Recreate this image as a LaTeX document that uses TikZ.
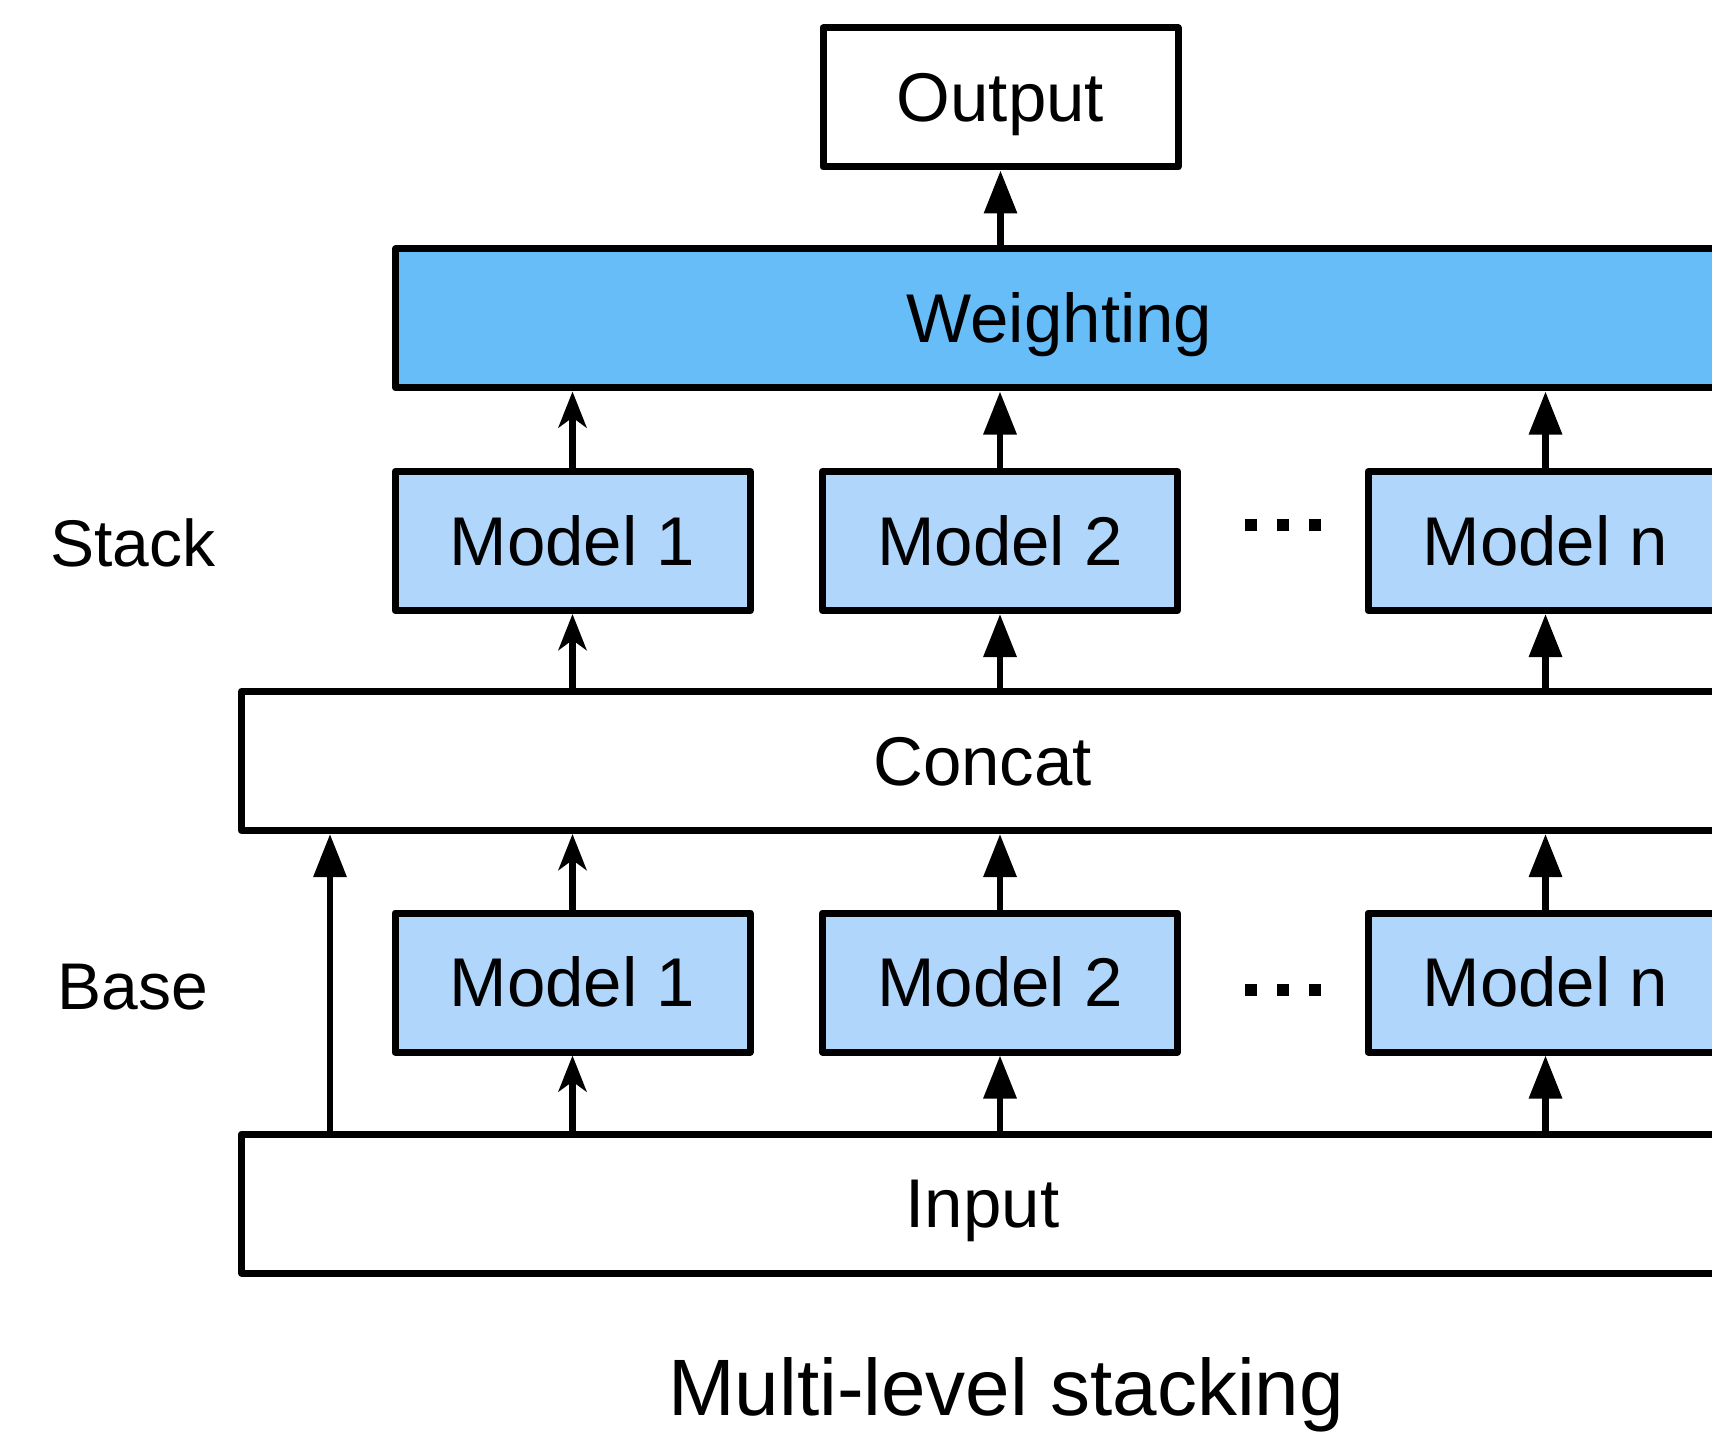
\documentclass[tikz,border=0pt]{standalone}
\usepackage{fontspec}
\setmainfont{Liberation Sans}
\usetikzlibrary{arrows.meta}
\definecolor{wblue}{RGB}{103,189,248}
\definecolor{mblue}{RGB}{176,214,252}
\begin{document}
\begin{tikzpicture}[x=0.5pt,y=-0.5pt,
  box/.style={draw=black, line width=3.5pt, line join=round, minimum height=69.5pt,
              inner sep=0pt, text height=24.3pt, text depth=0pt,
              font=\fontsize{34.5}{40}\selectfont},
  model/.style={box, fill=mblue, minimum width=177.5pt},
  wide/.style={box, minimum width=741pt},
  lbl/.style={inner sep=0pt, text height=23.6pt, text depth=0pt,
              font=\fontsize{33}{40}\selectfont},
  sqdot/.style={fill=black, minimum size=6pt, inner sep=0pt},
  tri/.style={-{Triangle[length=21.5pt,width=16pt]}, line width=3.2pt},
  stl/.style={-{Stealth[length=18pt,width=14pt,inset=5pt]}, line width=3.2pt},
]
\useasboundingbox (0,0) rectangle (1712,1433);
\clip (0,0) rectangle (1712,1433);
\fill[white] (0,0) rectangle (1712,1433);

% boxes
\node[box, minimum width=177.5pt] (out) at (1000.5,97.5) {Output};
\node[box, fill=wblue, minimum width=664pt] (wt) at (1059.5,318.5) {Weighting};
\node[model] (s1) at (572.5,541) {Model 1};
\node[model] (s2) at (1000,541) {Model 2};
\node[model] (sn) at (1545.5,541) {Model n};
\node[wide] (cc) at (982.5,761) {Concat};
\node[model] (b1) at (572.5,982.5) {Model 1};
\node[model] (b2) at (1000,982.5) {Model 2};
\node[model] (bn) at (1545.5,982.5) {Model n};
\node[wide] (in) at (982.5,1203.5) {Input};

% level labels
\node[lbl] (stk) at (133,543) {Stack};
\node[lbl] (bse) at (133,986) {Base};

% ellipses between models
\node[sqdot] (sd1) at (1251,525) {};
\node[sqdot] (sd2) at (1283,525) {};
\node[sqdot] (sd3) at (1315,525) {};
\node[sqdot] (bd1) at (1251,990) {};
\node[sqdot] (bd2) at (1283,990) {};
\node[sqdot] (bd3) at (1315,990) {};

% caption
\node[anchor=base, inner sep=0pt, font=\fontsize{40}{48}\selectfont] (title) at (1006,1415) {Multi-level stacking};

% connectors
\coordinate (skip) at (330,1134);
\draw[tri] (in.north -| skip) -- (cc.south -| skip);

\draw[stl] (in.north -| b1) -- (b1.south);
\draw[stl] (b1.north) -- (cc.south -| b1);
\draw[stl] (cc.north -| s1) -- (s1.south);
\draw[stl] (s1.north) -- (wt.south -| s1);

\draw[tri] (in.north -| b2) -- (b2.south);
\draw[tri] (b2.north) -- (cc.south -| b2);
\draw[tri] (cc.north -| s2) -- (s2.south);
\draw[tri] (s2.north) -- (wt.south -| s2);

\draw[tri] (in.north -| bn) -- (bn.south);
\draw[tri] (bn.north) -- (cc.south -| bn);
\draw[tri] (cc.north -| sn) -- (sn.south);
\draw[tri] (sn.north) -- (wt.south -| sn);

\draw[tri] (wt.north -| out) -- (out.south);
\end{tikzpicture}
\end{document}
